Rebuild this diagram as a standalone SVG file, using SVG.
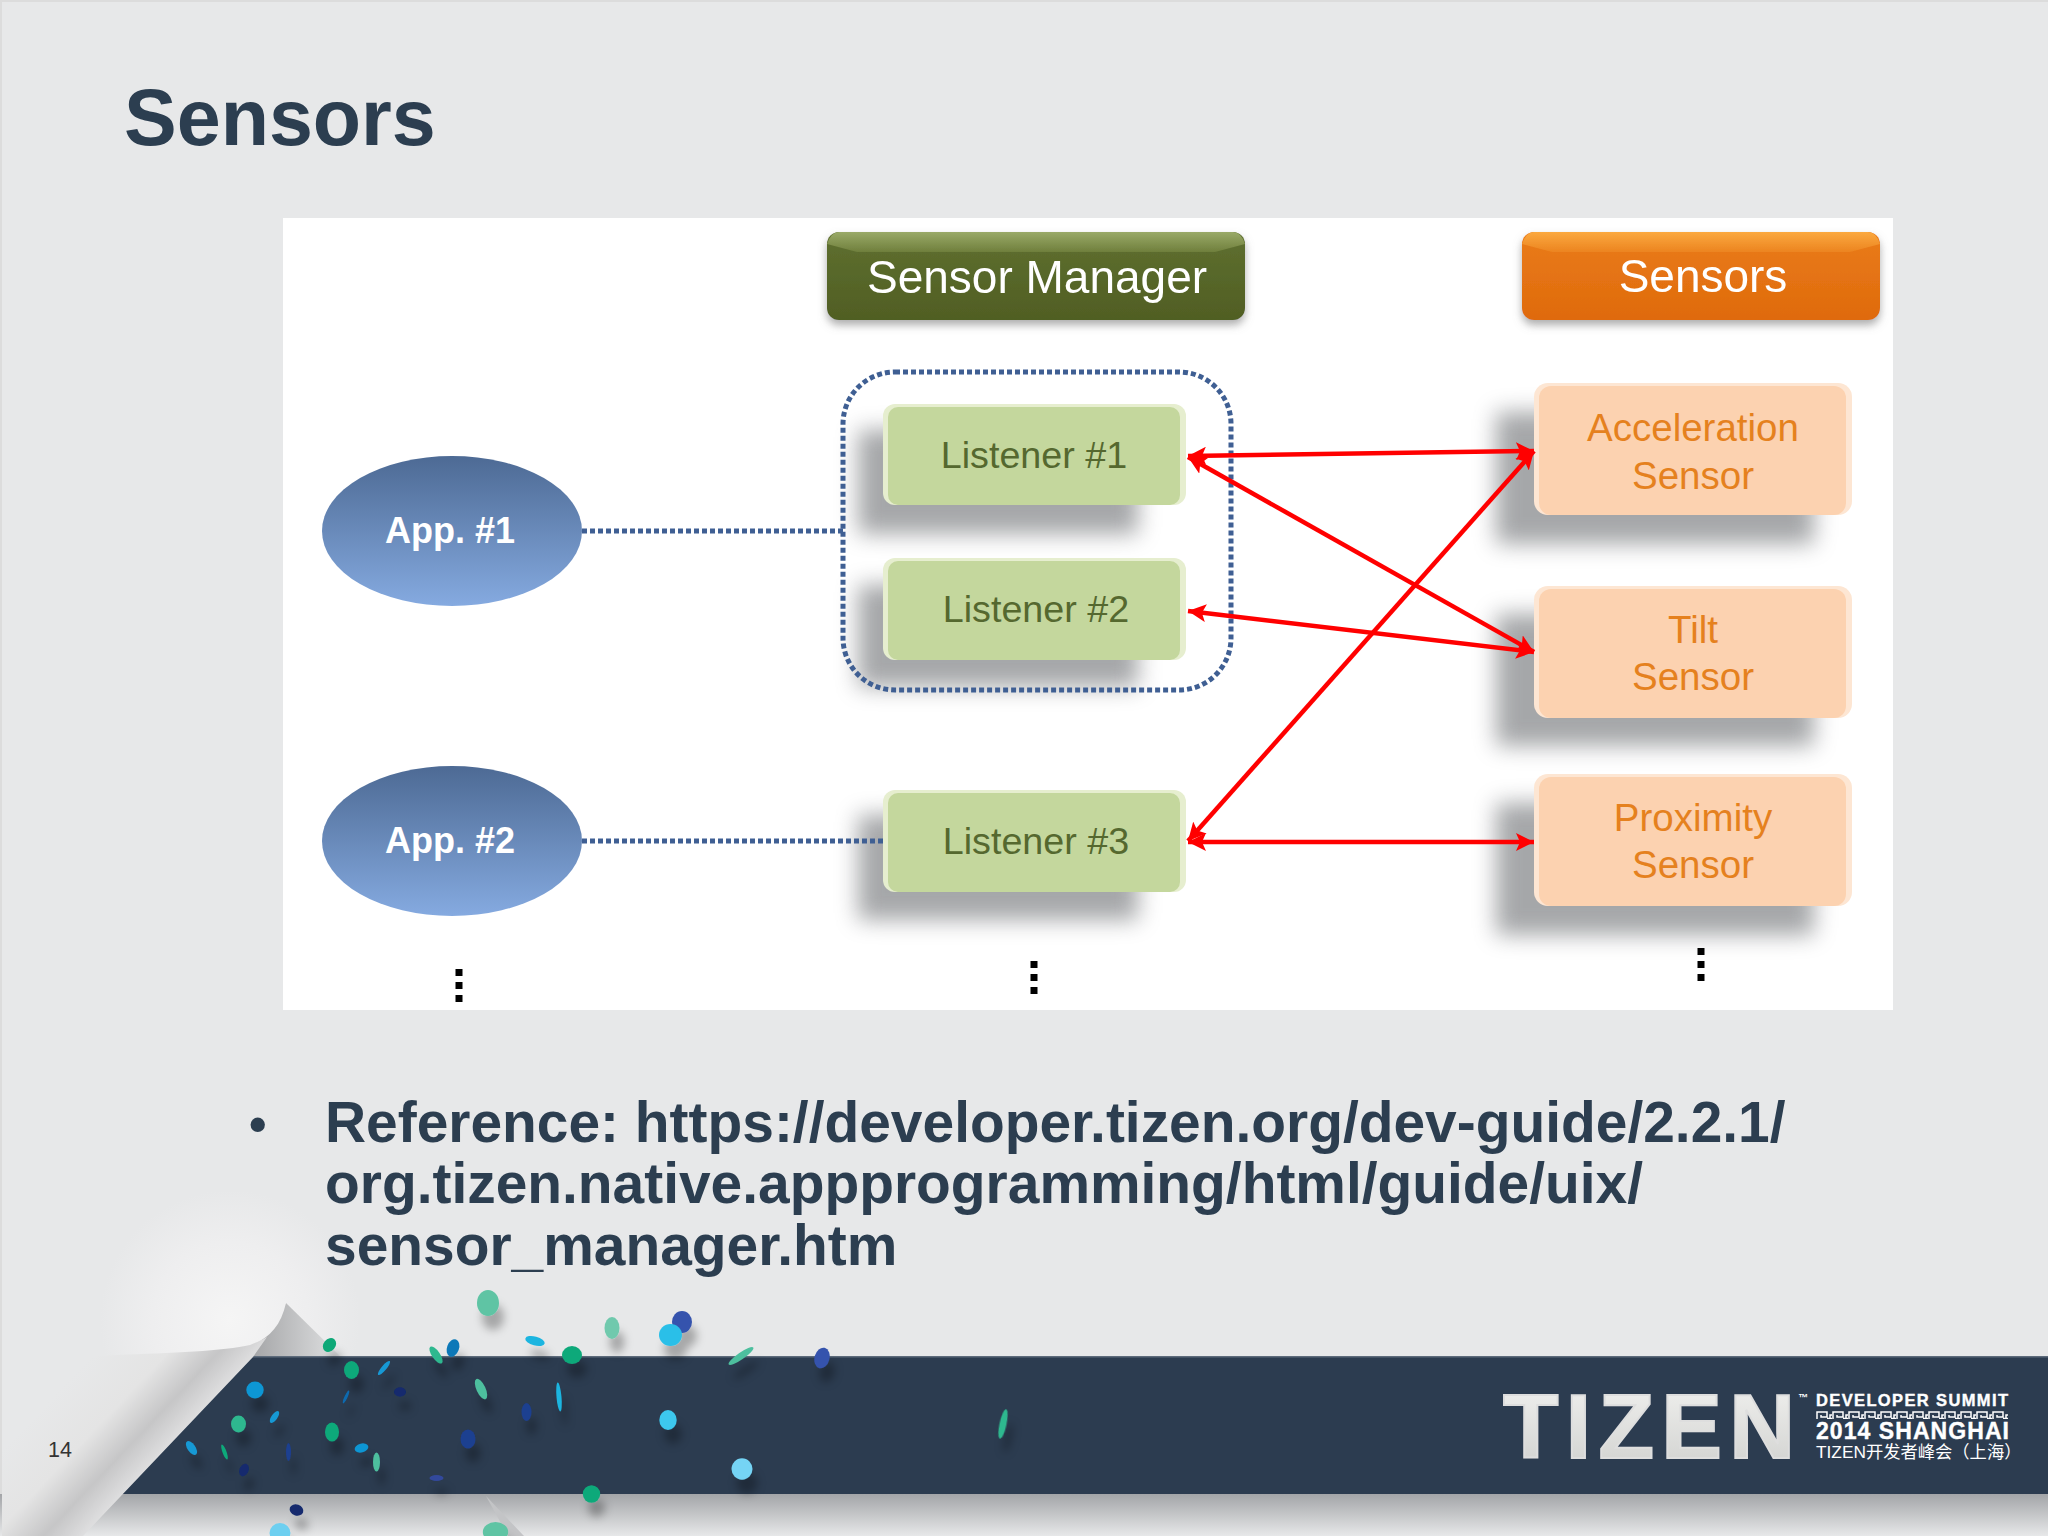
<svg xmlns="http://www.w3.org/2000/svg" width="2048" height="1536" viewBox="0 0 2048 1536">
<style>
text{font-family:"Liberation Sans",Arial,sans-serif}
.title{font-size:79px;font-weight:700;fill:#2c3e50}
.body{font-size:56.9px;font-weight:700;fill:#2c3e50}
.hdr{font-size:46px;fill:#fff;text-anchor:middle}
.app{font-size:36px;font-weight:700;fill:#fff;text-anchor:middle}
.lis{font-size:37.7px;fill:#55682f;text-anchor:middle}
.sen{font-size:38.5px;fill:#e5811e;text-anchor:middle}
.sh{fill:#808285;opacity:.7;filter:url(#blur)}
.lo{fill:#e6eecf}.li{fill:#c4d79d}
.so{fill:#fde6d3}.si{fill:#fcd2b0}
.dot{fill:none;stroke:#3f5f93;stroke-width:5;stroke-dasharray:5 3}
.arr{fill:none;stroke:#f00;stroke-width:4.5;marker-start:url(#ah);marker-end:url(#ah)}
.vd{fill:none;stroke:#000;stroke-width:7;stroke-dasharray:7 6}
.logo{fill:#fff;font-weight:700}
</style>
<defs>
<filter id="blur" x="-30%" y="-30%" width="160%" height="160%"><feGaussianBlur stdDeviation="11"/></filter>
<filter id="hs" x="-10%" y="-20%" width="120%" height="150%"><feDropShadow dx="0" dy="5" stdDeviation="4" flood-color="#777" flood-opacity=".6"/></filter>
<filter id="cs" x="-100%" y="-100%" width="300%" height="300%"><feDropShadow dx="5" dy="14" stdDeviation="4" flood-color="#000" flood-opacity=".28"/></filter>
<marker id="ah" markerUnits="userSpaceOnUse" markerWidth="20" markerHeight="18" refX="18" refY="9" orient="auto-start-reverse"><path d="M0 0L18 9L0 18L4 9Z" fill="#f00"/></marker>
<linearGradient id="ap" x1="0" y1="0" x2="0" y2="1"><stop offset="0" stop-color="#4d6a94"/><stop offset="1" stop-color="#85aae0"/></linearGradient>
<linearGradient id="gb" x1="0" y1="0" x2="0" y2="1"><stop offset="0" stop-color="#5f7030"/><stop offset="1" stop-color="#505e23"/></linearGradient>
<linearGradient id="gt" x1="0" y1="0" x2="0" y2="1"><stop offset="0" stop-color="#9aaa68"/><stop offset="1" stop-color="#6f7f3c"/></linearGradient>
<linearGradient id="ob" x1="0" y1="0" x2="0" y2="1"><stop offset="0" stop-color="#ea7c18"/><stop offset="1" stop-color="#df6a0d"/></linearGradient>
<linearGradient id="ot" x1="0" y1="0" x2="0" y2="1"><stop offset="0" stop-color="#fba93f"/><stop offset="1" stop-color="#ec8420"/></linearGradient>
<linearGradient id="flap" gradientUnits="userSpaceOnUse" x1="168" y1="1276" x2="253" y2="1357"><stop offset="0" stop-color="#e7e8e9"/><stop offset=".45" stop-color="#e4e4e4"/><stop offset=".76" stop-color="#c6c6c7"/><stop offset="1" stop-color="#dededf"/></linearGradient>
<radialGradient id="lift" gradientUnits="userSpaceOnUse" cx="230" cy="1320" r="130"><stop offset="0" stop-color="#f5f5f5"/><stop offset=".6" stop-color="#eeeeef"/><stop offset="1" stop-color="#e7e8e9"/></radialGradient>
<linearGradient id="curl" x1="0" y1="0" x2="1" y2="0"><stop offset="0" stop-color="#a3a4a6"/><stop offset="1" stop-color="#e0e1e2"/></linearGradient>
<linearGradient id="under" x1="0" y1="0" x2="0" y2="1"><stop offset="0" stop-color="#a3a5a8"/><stop offset="1" stop-color="#e7e8e9"/></linearGradient>
<linearGradient id="tz" x1="0" y1="0" x2="0" y2="1"><stop offset="0" stop-color="#f2f2f0"/><stop offset="1" stop-color="#cfd0ce"/></linearGradient>
<pattern id="mea" x="1816" y="1411" width="16" height="8" patternUnits="userSpaceOnUse"><path d="M1 8V1H11V6H5V4M14 8V4H16M11 7.5H16" fill="none" stroke="#fff" stroke-width="1.5"/></pattern>
</defs>

<rect id="bg" width="2048" height="1536" fill="#e7e8e9"/>
<path d="M1 1536V1H2048" fill="none" stroke="#dcdcdc" stroke-width="2"/>
<text class="title" x="124" y="145">Sensors</text>
<rect id="panel" x="283" y="218" width="1610" height="792" fill="#fff"/>

<g id="shadows">
<rect class="sh" x="858" y="430" width="280" height="104"/>
<rect class="sh" x="858" y="585" width="280" height="102"/>
<rect class="sh" x="858" y="815" width="280" height="105"/>
<rect class="sh" x="1496" y="412" width="318" height="132"/>
<rect class="sh" x="1496" y="614" width="318" height="132"/>
<rect class="sh" x="1496" y="803" width="318" height="132"/>
</g>

<g id="group-box"><rect class="dot" x="843" y="372" width="388" height="318" rx="52"/></g>

<g id="sensor-manager" filter="url(#hs)">
<rect x="827" y="232" width="418" height="88" rx="12" fill="url(#gb)"/>
<path d="M839 232H1233Q1241 232 1245 244L1215 252H857L827 244Q831 232 839 232Z" fill="url(#gt)"/>
<text class="hdr" x="1037" y="293">Sensor Manager</text>
</g>
<g id="sensors-header" filter="url(#hs)">
<rect x="1522" y="232" width="358" height="88" rx="12" fill="url(#ob)"/>
<path d="M1534 232H1868Q1876 232 1880 244L1850 252H1552L1522 244Q1526 232 1534 232Z" fill="url(#ot)"/>
<text class="hdr" x="1703" y="292">Sensors</text>
</g>

<g id="app1"><ellipse cx="452" cy="531" rx="130" ry="75" fill="url(#ap)"/><text class="app" x="450" y="543">App. #1</text></g>
<g id="app2"><ellipse cx="452" cy="841" rx="130" ry="75" fill="url(#ap)"/><text class="app" x="450" y="853">App. #2</text></g>

<g id="listener1"><rect class="lo" x="883" y="404" width="303" height="101" rx="12"/><rect class="li" x="888" y="407" width="292" height="98" rx="10"/><text class="lis" x="1034" y="468">Listener #1</text></g>
<g id="listener2"><rect class="lo" x="883" y="558" width="303" height="102" rx="12"/><rect class="li" x="888" y="561" width="292" height="99" rx="10"/><text class="lis" x="1036" y="622">Listener #2</text></g>
<g id="listener3"><rect class="lo" x="883" y="790" width="303" height="102" rx="12"/><rect class="li" x="888" y="793" width="292" height="99" rx="10"/><text class="lis" x="1036" y="854">Listener #3</text></g>

<g id="accel"><rect class="so" x="1534" y="383" width="318" height="132" rx="14"/><rect class="si" x="1539" y="386" width="307" height="129" rx="12"/><text class="sen" x="1693" y="441">Acceleration</text><text class="sen" x="1693" y="489">Sensor</text></g>
<g id="tilt"><rect class="so" x="1534" y="586" width="318" height="132" rx="14"/><rect class="si" x="1539" y="589" width="307" height="129" rx="12"/><text class="sen" x="1693" y="643">Tilt</text><text class="sen" x="1693" y="690">Sensor</text></g>
<g id="prox"><rect class="so" x="1534" y="774" width="318" height="132" rx="14"/><rect class="si" x="1539" y="777" width="307" height="129" rx="12"/><text class="sen" x="1693" y="831">Proximity</text><text class="sen" x="1693" y="878">Sensor</text></g>

<g id="connectors">
<path class="dot" d="M582 531H843"/>
<path class="dot" d="M582 841H883"/>
<path class="arr" d="M1188 456L1534 451"/>
<path class="arr" d="M1188 457L1534 652"/>
<path class="arr" d="M1188 611L1534 652"/>
<path class="arr" d="M1188 841L1534 451"/>
<path class="arr" d="M1188 842H1534"/>
<path class="vd" d="M459 969V1003"/>
<path class="vd" d="M1034 961V995"/>
<path class="vd" d="M1701 948V982"/>
</g>

<g id="footer">
<circle cx="230" cy="1320" r="130" fill="url(#lift)"/>
<rect x="0" y="1494" width="2048" height="42" fill="url(#under)"/>
<path d="M486 1496L524 1536H508Z" fill="#c3c4c6"/>
<path d="M286 1303L341 1357H250Z" fill="url(#curl)"/>
<rect x="118" y="1356" width="1930" height="138" fill="#2c3c50"/>
<rect x="118" y="1356" width="1930" height="1.5" fill="#5d6b7b"/>
<path d="M100 1250L286 1303C281 1326 268 1340 250 1345C225 1351 170 1353 117 1355L100 1356Z" fill="url(#lift)"/>
<path d="M2 1362L117 1355C170 1353 225 1351 250 1345C255 1343 262 1340 267 1337L253 1357L83 1536H2Z" fill="url(#flap)"/>
</g>

<text x="249" y="1141" font-size="50" font-weight="700" fill="#2c3e50">•</text>
<text class="body"><tspan x="325" y="1142">Reference: https://developer.tizen.org/dev-guide/2.2.1/</tspan><tspan x="325" y="1203">org.tizen.native.appprogramming/html/guide/uix/</tspan><tspan x="325" y="1265">sensor_manager.htm</tspan></text>
<text x="48" y="1457" font-size="21.5" fill="#333">14</text>

<g id="confetti" filter="url(#cs)">
<ellipse cx="488" cy="1303" rx="11" ry="13" fill="#5fc4a4"/>
<ellipse cx="612" cy="1328" rx="7.5" ry="11" fill="#6fc9ad"/>
<ellipse cx="682" cy="1322" rx="10" ry="11" fill="#3553ad"/>
<ellipse cx="670.5" cy="1335" rx="11.5" ry="11" fill="#2bbfe8"/>
<ellipse cx="329.5" cy="1345" rx="6" ry="7.5" transform="rotate(40 329.5 1345)" fill="#0aa877"/>
<ellipse cx="453" cy="1348" rx="6" ry="9" transform="rotate(20 453 1348)" fill="#0a78b8"/>
<ellipse cx="436" cy="1355" rx="4" ry="10" transform="rotate(-35 436 1355)" fill="#2fb88f"/>
<ellipse cx="535" cy="1341" rx="10" ry="4.5" transform="rotate(15 535 1341)" fill="#1cb5e0"/>
<ellipse cx="572" cy="1355" rx="10" ry="9" fill="#0fa97a"/>
<ellipse cx="741" cy="1356" rx="3.5" ry="15" transform="rotate(55 741 1356)" fill="#4dbf9e"/>
<ellipse cx="822" cy="1358" rx="7.5" ry="10.5" transform="rotate(15 822 1358)" fill="#3553ad"/>
<ellipse cx="351.5" cy="1370" rx="7.5" ry="9" fill="#0fa97a"/>
<ellipse cx="384" cy="1368" rx="2.5" ry="9" transform="rotate(40 384 1368)" fill="#1899d5"/>
<ellipse cx="255" cy="1390" rx="8.7" ry="8.5" fill="#0f96d4"/>
<ellipse cx="481" cy="1389" rx="4.5" ry="11" transform="rotate(-25 481 1389)" fill="#4dbf9e"/>
<ellipse cx="400" cy="1392" rx="6" ry="4.7" fill="#142a6e"/>
<ellipse cx="346" cy="1397" rx="1.5" ry="7" transform="rotate(25 346 1397)" fill="#0f6bb0"/>
<ellipse cx="559" cy="1397" rx="2.5" ry="14.5" transform="rotate(-5 559 1397)" fill="#1cb5e0"/>
<ellipse cx="526.5" cy="1412" rx="5" ry="9" fill="#1d3f90"/>
<ellipse cx="274.5" cy="1417" rx="3" ry="7" transform="rotate(35 274.5 1417)" fill="#1899d5"/>
<ellipse cx="238.5" cy="1424" rx="7.5" ry="8.5" fill="#2fb88f"/>
<ellipse cx="668" cy="1420" rx="8.7" ry="10" fill="#3cc8ee"/>
<ellipse cx="1003" cy="1424" rx="3.5" ry="15" transform="rotate(12 1003 1424)" fill="#2fb88f"/>
<ellipse cx="332" cy="1432" rx="7" ry="9.5" fill="#0fa97a"/>
<ellipse cx="468" cy="1439" rx="7.5" ry="9.5" fill="#1d3f90"/>
<ellipse cx="191.5" cy="1448" rx="4" ry="8" transform="rotate(-35 191.5 1448)" fill="#1899d5"/>
<ellipse cx="224.5" cy="1452" rx="2" ry="8" transform="rotate(-20 224.5 1452)" fill="#0fa97a"/>
<ellipse cx="288.5" cy="1452" rx="2.5" ry="9" fill="#1d3f90"/>
<ellipse cx="361.5" cy="1448" rx="7" ry="4.5" transform="rotate(-15 361.5 1448)" fill="#0f96d4"/>
<ellipse cx="376.5" cy="1462" rx="3.5" ry="9.5" fill="#4dbf9e"/>
<ellipse cx="244" cy="1470" rx="4.5" ry="6.5" transform="rotate(25 244 1470)" fill="#142a6e"/>
<ellipse cx="436.5" cy="1478" rx="7" ry="3" fill="#33499c"/>
<ellipse cx="742" cy="1469" rx="10.5" ry="10.7" fill="#74d4f5"/>
<ellipse cx="591.5" cy="1494" rx="8.7" ry="8.7" fill="#0fa97a"/>
<ellipse cx="296.5" cy="1510" rx="7" ry="5.5" transform="rotate(20 296.5 1510)" fill="#142a6e"/>
<ellipse cx="280" cy="1533" rx="10.5" ry="10" fill="#6dcff0"/>
<ellipse cx="495.5" cy="1532" rx="12.7" ry="10" fill="#5fc4a4"/>
</g>

<g id="logo">
<text x="1503" y="1458" font-size="91" font-weight="700" fill="url(#tz)" stroke="#dedede" stroke-width="2" textLength="292" lengthAdjust="spacing">TIZEN</text>
<text class="logo" x="1798" y="1401" font-size="10">™</text>
<text class="logo" x="1816" y="1406" font-size="16.5" stroke="#fff" stroke-width=".4" textLength="192">DEVELOPER SUMMIT</text>
<rect x="1816" y="1411" width="192" height="8" fill="url(#mea)"/>
<text class="logo" x="1816" y="1439" font-size="23" stroke="#fff" stroke-width=".4" textLength="193">2014 SHANGHAI</text>
<text x="1816" y="1458" font-size="17.3" fill="#fff" style="font-family:'Liberation Sans','Noto Sans CJK SC',sans-serif">TIZEN开发者峰会（上海）</text>
</g>
</svg>
